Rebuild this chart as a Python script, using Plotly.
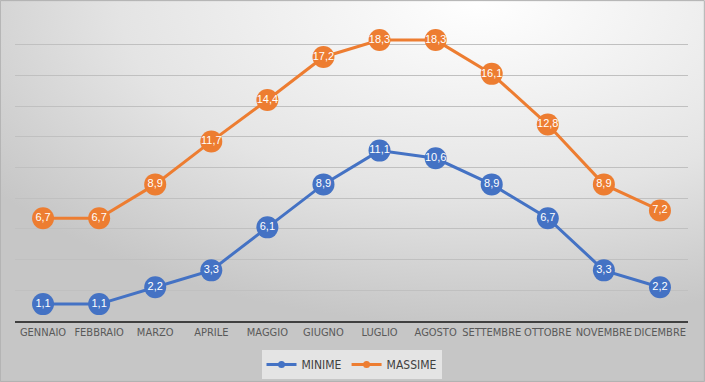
import plotly.graph_objects as go
import base64

mesi = ["GENNAIO", "FEBBRAIO", "MARZO", "APRILE", "MAGGIO", "GIUGNO", "LUGLIO",
        "AGOSTO", "SETTEMBRE", "OTTOBRE", "NOVEMBRE", "DICEMBRE"]
minime = [1.1, 1.1, 2.2, 3.3, 6.1, 8.9, 11.1, 10.6, 8.9, 6.7, 3.3, 2.2]
massime = [6.7, 6.7, 8.9, 11.7, 14.4, 17.2, 18.3, 18.3, 16.1, 12.8, 8.9, 7.2]


def fmt(vals):
    return [f"{v:.1f}".replace(".", ",") for v in vals]


svg = """<svg xmlns='http://www.w3.org/2000/svg' width='705' height='382'>
<defs><radialGradient id='g' cx='0.68' cy='0.0' r='0.85' gradientUnits='objectBoundingBox'>
<stop offset='0' stop-color='#ffffff'/><stop offset='0.6' stop-color='#e4e4e4'/>
<stop offset='1' stop-color='#c6c6c6'/></radialGradient></defs>
<rect width='705' height='382' fill='url(#g)'/></svg>"""
uri = "data:image/svg+xml;base64," + base64.b64encode(svg.encode()).decode()

FONT = "Liberation Sans Narrow, DejaVu Sans Condensed, Liberation Sans"

fig = go.Figure()
for name, vals, col in [("MINIME", minime, "#4472C4"), ("MASSIME", massime, "#ED7D31")]:
    fig.add_trace(go.Scatter(
        x=mesi, y=vals, name=name, mode="lines+markers+text", showlegend=False,
        legendgroup=name,
        line=dict(color=col, width=3),
        marker=dict(size=22, color=col),
        text=fmt(vals), textposition="middle center",
        textfont=dict(color="white", size=11, family="Liberation Sans"),
        cliponaxis=False,
    ))
    # legend entry with a small marker, as in the reference
    fig.add_trace(go.Scatter(
        x=[None], y=[None], name=name, mode="lines+markers", legendgroup=name,
        line=dict(color=col, width=3), marker=dict(size=7, color=col),
    ))

fig.add_layout_image(dict(source=uri, xref="paper", yref="paper", x=-15/673, y=1+14/307,
                          sizex=705/673, sizey=382/307, xanchor="left", yanchor="top",
                          sizing="stretch", layer="below"))

fig.update_layout(
    width=705, height=382,
    margin=dict(l=15, r=17, t=14, b=61),
    paper_bgcolor="#d9d9d9", plot_bgcolor="rgba(0,0,0,0)",
    showlegend=True,
    legend=dict(orientation="h", x=0.5, xanchor="center",
                yref="container", y=1 - 350/382, yanchor="top",
                bgcolor="rgba(230,230,230,0.95)",
                font=dict(family=FONT, size=12, color="#404040")),
    xaxis=dict(range=[-0.5, 11.5], showgrid=False, showline=True, linecolor="#404040", linewidth=2,
               ticks="", tickfont=dict(family=FONT, size=11, color="#595959"),
               fixedrange=True, tickangle=0, automargin=False),
    yaxis=dict(range=[0, 20], dtick=2, showgrid=True, gridcolor="#c0c0c0", gridwidth=1,
               showticklabels=False, zeroline=False, fixedrange=True, automargin=False),
)
fig.add_shape(type="rect", xref="paper", yref="paper",
              x0=-15/673 + 0.0005, x1=1+17/673 - 0.001, y0=-61/307 + 0.002, y1=1+14/307 - 0.002,
              line=dict(color="#b0b0b0", width=1))
fig.write_html("out.html", config={"displayModeBar": False},
               post_script="document.body.style.margin='0';")
